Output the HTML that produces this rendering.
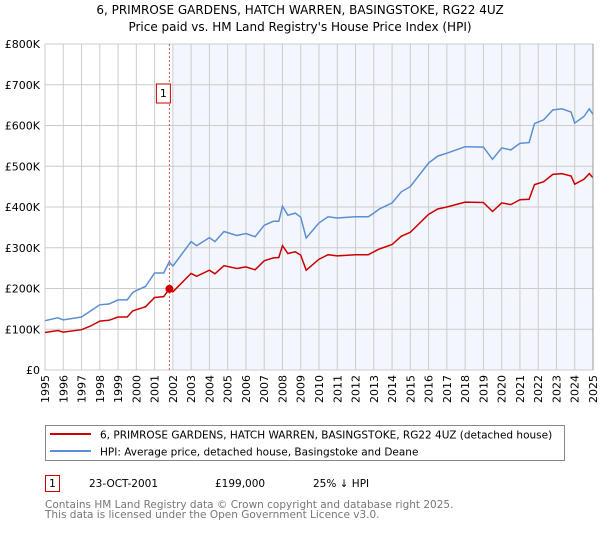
<!DOCTYPE html>
<html><head><meta charset="utf-8"><style>
body{margin:0;background:#fff;font-family:"DejaVu Sans","Liberation Sans",sans-serif;}
svg text{font-family:"DejaVu Sans","Liberation Sans",sans-serif;}
</style></head><body>
<svg id="c" width="600" height="530" xmlns="http://www.w3.org/2000/svg">
<text x="300" y="14" text-anchor="middle" font-size="12">6, PRIMROSE GARDENS, HATCH WARREN, BASINGSTOKE, RG22 4UZ</text>
<text x="300" y="31" text-anchor="middle" font-size="12">Price paid vs. HM Land Registry's House Price Index (HPI)</text>
<g id="plot"></g>
<rect x="45.5" y="425.5" width="519" height="35" fill="#fff" stroke="#888"/>
<line x1="50" y1="434" x2="91" y2="434" stroke="#cc0000" stroke-width="2"/>
<text x="100" y="438.5" font-size="10.5">6, PRIMROSE GARDENS, HATCH WARREN, BASINGSTOKE, RG22 4UZ (detached house)</text>
<line x1="50" y1="451" x2="91" y2="451" stroke="#5b8fd4" stroke-width="2"/>
<text x="100" y="455.5" font-size="10.5">HPI: Average price, detached house, Basingstoke and Deane</text>
<rect x="45.5" y="475.5" width="14" height="16" fill="#fff" stroke="#cc0000"/>
<text x="52.5" y="487" text-anchor="middle" font-size="10.5">1</text>
<text x="89" y="487" font-size="10.5">23-OCT-2001</text>
<text x="215" y="487" font-size="10.5">£199,000</text>
<text x="313" y="487" font-size="10.5">25% ↓ HPI</text>
<text x="45" y="508" font-size="10.5" fill="#777">Contains HM Land Registry data © Crown copyright and database right 2025.</text>
<text x="45" y="518" font-size="10.5" fill="#777">This data is licensed under the Open Government Licence v3.0.</text>
</svg>
<script>
const hpiYears=[1995,1995.7,1996,1997,1997.5,1998,1998.5,1999,1999.5,1999.8,2000,2000.5,2001,2001.5,2001.8,2002,2003,2003.3,2004,2004.3,2004.8,2005.5,2006,2006.5,2007,2007.5,2007.8,2008,2008.3,2008.7,2009,2009.3,2010,2010.5,2011,2012,2012.7,2013,2013.3,2014,2014.5,2015,2016,2016.5,2017,2018,2019,2019.5,2020,2020.5,2021,2021.5,2021.8,2022.3,2022.8,2023.3,2023.8,2024,2024.5,2024.8,2025];
const hpiValues=[121,128,123,130,145,160,162,172,172,190,195,205,238,238,265,255,315,305,325,315,340,330,335,327,355,365,365,402,380,385,375,324,361,376,373,376,376,385,395,410,437,450,508,525,532,548,547,517,545,540,556,558,605,614,638,641,633,606,622,641,627];
const redYears=[1995,1995.7,1996,1997,1997.5,1998,1998.5,1999,1999.5,1999.8,2000,2000.5,2001,2001.5,2001.81,2002,2003,2003.3,2004,2004.3,2004.8,2005.5,2006,2006.5,2007,2007.5,2007.8,2008,2008.3,2008.7,2009,2009.3,2010,2010.5,2011,2012,2012.7,2013,2013.3,2014,2014.5,2015,2016,2016.5,2017,2018,2019,2019.5,2020,2020.5,2021,2021.5,2021.8,2022.3,2022.8,2023.3,2023.8,2024,2024.5,2024.8,2025];
const redValues=[92,97,93,99,108,120,122,130,130,145,148,155,178,180,199,192,237,230,245,236,256,249,253,246,268,275,276,305,286,290,282,245,272,283,280,283,283,290,297,308,328,338,382,395,400,412,411,389,410,406,418,419,455,462,480,482,476,456,468,482,472];
const saleYear=[2001.81], saleValue=[199];
const yTicks=[0,100,200,300,400,500,600,700,800];
const yTickLabels=["£0","£100K","£200K","£300K","£400K","£500K","£600K","£700K","£800K"];
const xTicks=[1995,1996,1997,1998,1999,2000,2001,2002,2003,2004,2005,2006,2007,2008,2009,2010,2011,2012,2013,2014,2015,2016,2017,2018,2019,2020,2021,2022,2023,2024,2025];
const X0=45,X1=593,Y0=370,Y1=44;
const xs=y=>X0+(y-1995)/30*(X1-X0);
const ys=v=>Y0-v/800*(Y0-Y1);
const NS="http://www.w3.org/2000/svg",g=document.getElementById('plot');
function mk(t,a){const e=document.createElementNS(NS,t);for(const k in a)e.setAttribute(k,a[k]);g.appendChild(e);return e;}
let e=mk('rect',{x:xs(2002),y:Y1,width:X1-xs(2002),height:Y0-Y1,fill:'#f3f6fd'});


yTicks.forEach((t,i)=>{let l=mk('line',{x1:X0,x2:X1,y1:ys(t),y2:ys(t),stroke:'#ccc'});


let tx=mk('text',{x:40,y:ys(t)+4,'text-anchor':'end','font-size':'11'});tx.textContent=yTickLabels[i];

});
xTicks.forEach(t=>{let l=mk('line',{x1:xs(t),x2:xs(t),y1:Y1,y2:Y0,stroke:'#ccc'});


let tx=mk('text',{x:0,y:0,'font-size':'11','text-anchor':'end',transform:`translate(${xs(t)+4},375) rotate(-90)`});tx.textContent=t;

});
e=mk('line',{x1:xs(saleYear[0]),x2:xs(saleYear[0]),y1:Y1,y2:Y0,stroke:'#e05050','stroke-dasharray':'2,2'});


function path(xa,va){return xa.map((x,i)=>(i?'L':'M')+xs(x).toFixed(1)+','+ys(va[i]).toFixed(1)).join('');}
e=mk('path',{d:path(hpiYears,hpiValues),fill:'none',stroke:'#5b8fd4','stroke-width':1.5});


e=mk('path',{d:path(redYears,redValues),fill:'none',stroke:'#cc0000','stroke-width':1.5});


e=mk('circle',{cx:xs(saleYear[0]),cy:ys(saleValue[0]),r:4,fill:'#cc0000'});


e=mk('rect',{x:xs(saleYear[0])-13,y:84,width:14,height:19,fill:'#fff',stroke:'#cc0000'});


e=mk('text',{x:xs(saleYear[0])-6,y:97,'text-anchor':'middle','font-size':'11'});e.textContent='1';


e=mk('line',{x1:X1,x2:X1,y1:Y1,y2:Y0,stroke:'#999'});


</script>
</body></html>
